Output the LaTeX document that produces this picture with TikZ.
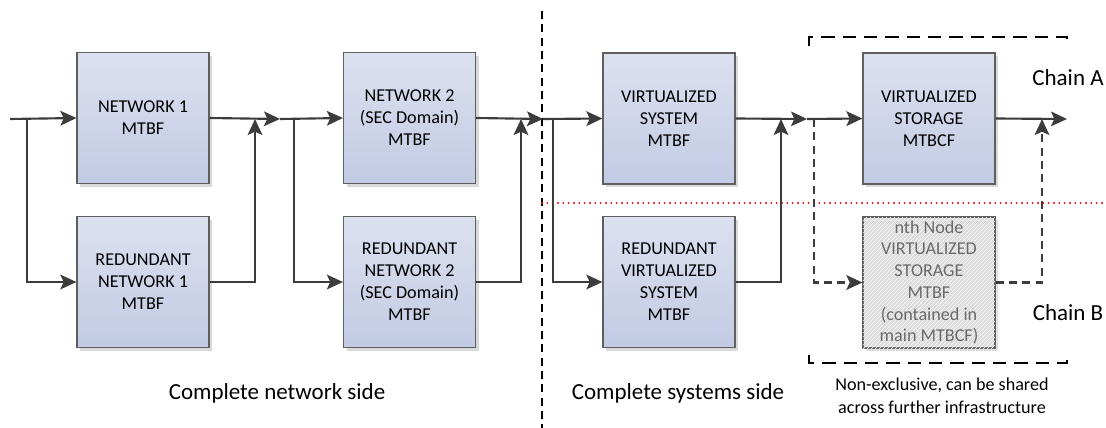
\documentclass[tikz,border=0pt]{standalone}
\usepackage{fontspec}
\setmainfont{Carlito}
\usetikzlibrary{arrows.meta,shadows,patterns}
\definecolor{boxtop}{RGB}{220,225,240}
\definecolor{boxbot}{RGB}{194,203,228}
\definecolor{edgegray}{RGB}{95,95,95}
\definecolor{wirecol}{RGB}{60,60,60}
\definecolor{ghosttext}{RGB}{105,105,105}
\begin{document}
\begin{tikzpicture}[x=0.75pt,y=-0.75pt,
  unit/.style={draw=edgegray, line width=0.9pt, top color=boxtop, bottom color=boxbot,
    minimum width=99pt, minimum height=98.25pt, inner sep=0pt, align=center,
    font=\fontsize{13.6}{16.5}\selectfont,
    drop shadow={shadow xshift=2.5pt, shadow yshift=-2.5pt, fill=black!15, opacity=1}},
  ghostunit/.style={draw=edgegray, line width=0.9pt, fill=black!14,
    postaction={pattern=north east lines, pattern color=white},
    minimum width=99pt, minimum height=98.25pt, inner sep=0pt, align=center,
    text=ghosttext, font=\fontsize{13.6}{16.3}\selectfont,
    drop shadow={shadow xshift=2.5pt, shadow yshift=-2.5pt, fill=black!12, opacity=1}},
  wire/.style={draw=wirecol, line width=1.6pt},
  flow/.style={wire, -{Stealth[length=12pt,width=11pt,inset=2.5pt]}},
  dflow/.style={flow, dash pattern=on 6pt off 4pt},
  biglabel/.style={font=\fontsize{17.25}{20}\selectfont, inner sep=0pt},
  note/.style={font=\fontsize{13.6}{17}\selectfont, inner sep=0pt, align=center}
]
\useasboundingbox (0,0) rectangle (1106,428);

% divider between network and systems sides
\draw[line width=1.5pt, dash pattern=on 6pt off 4pt] (542,11) -- (542,428);
% separation between chain A and chain B
\draw[red, line width=1.6pt, dash pattern=on 0pt off 4pt, line cap=round] (542,203) -- (1106,203);

% shared storage bracket
\draw[line width=1.5pt, dash pattern=on 10pt off 6pt] (809,46) -- (809,37) -- (1067,37) -- (1067,46);
\draw[line width=1.5pt, dash pattern=on 10pt off 6pt] (809,355) -- (809,363) -- (1067,363) -- (1067,355);

% blocks
\node[unit] (n1) at (143,118) {NETWORK 1\\MTBF};
\node[unit] (r1) at (143,282) {REDUNDANT\\NETWORK 1\\MTBF};
\node[unit] (n2) at (409.5,118) {NETWORK 2\\(SEC Domain)\\MTBF};
\node[unit] (r2) at (409.5,282) {REDUNDANT\\NETWORK 2\\(SEC Domain)\\MTBF};
\node[unit] (v1) at (669,118.5) {VIRTUALIZED\\SYSTEM\\MTBF};
\node[unit] (rv) at (669,282) {REDUNDANT\\VIRTUALIZED\\SYSTEM\\MTBF};
\node[unit] (s1) at (929,118.5) {VIRTUALIZED\\STORAGE\\MTBCF};
\node[ghostunit] (s2) at (929,282.5) {nth Node\\VIRTUALIZED\\STORAGE\\MTBF\\(contained in\\main MTBCF)};

% junction points
\coordinate (in) at (10,119);
\coordinate (b1) at (27,119);
\coordinate (u1) at (255,119);
\coordinate (j1) at (280,119);
\coordinate (b2) at (294,119);
\coordinate (u2) at (521,119);
\coordinate (j2) at (543,119);
\coordinate (b3) at (553,119);
\coordinate (u3) at (781,119);
\coordinate (j3) at (807,119);
\coordinate (b4) at (814,119);
\coordinate (u4) at (1042,119);
\coordinate (out) at (1067,119);

% stage 1
\draw[flow] (in) -- (n1.west);
\draw[flow] (b1) |- (r1.west);
\draw[flow] (n1.east) -- (j1);
\draw[flow] (r1.east) -| (u1);
% stage 2
\draw[flow] (j1) -- (n2.west);
\draw[flow] (b2) |- (r2.west);
\draw[flow] (n2.east) -- (j2);
\draw[flow] (r2.east) -| (u2);
% stage 3
\draw[flow] (j2) -- (v1.west);
\draw[flow] (b3) |- (rv.west);
\draw[flow] (v1.east) -- (j3);
\draw[flow] (rv.east) -| (u3);
% stage 4
\draw[flow] (j3) -- (s1.west);
\draw[dflow] (b4) |- (s2.west);
\draw[flow] (s1.east) -- (out);
\draw[dflow] (s2.east) -| (u4);

% labels
\node[biglabel] (ca) at (1068,78) {Chain A};
\node[biglabel] (cb) at (1068,313) {Chain B};
\node[biglabel] (ln) at (277,393) {Complete network side};
\node[biglabel] (ls) at (678,393) {Complete systems side};
\node[note] (ns) at (942,396) {Non-exclusive, can be shared\\across further infrastructure};
\end{tikzpicture}
\end{document}
